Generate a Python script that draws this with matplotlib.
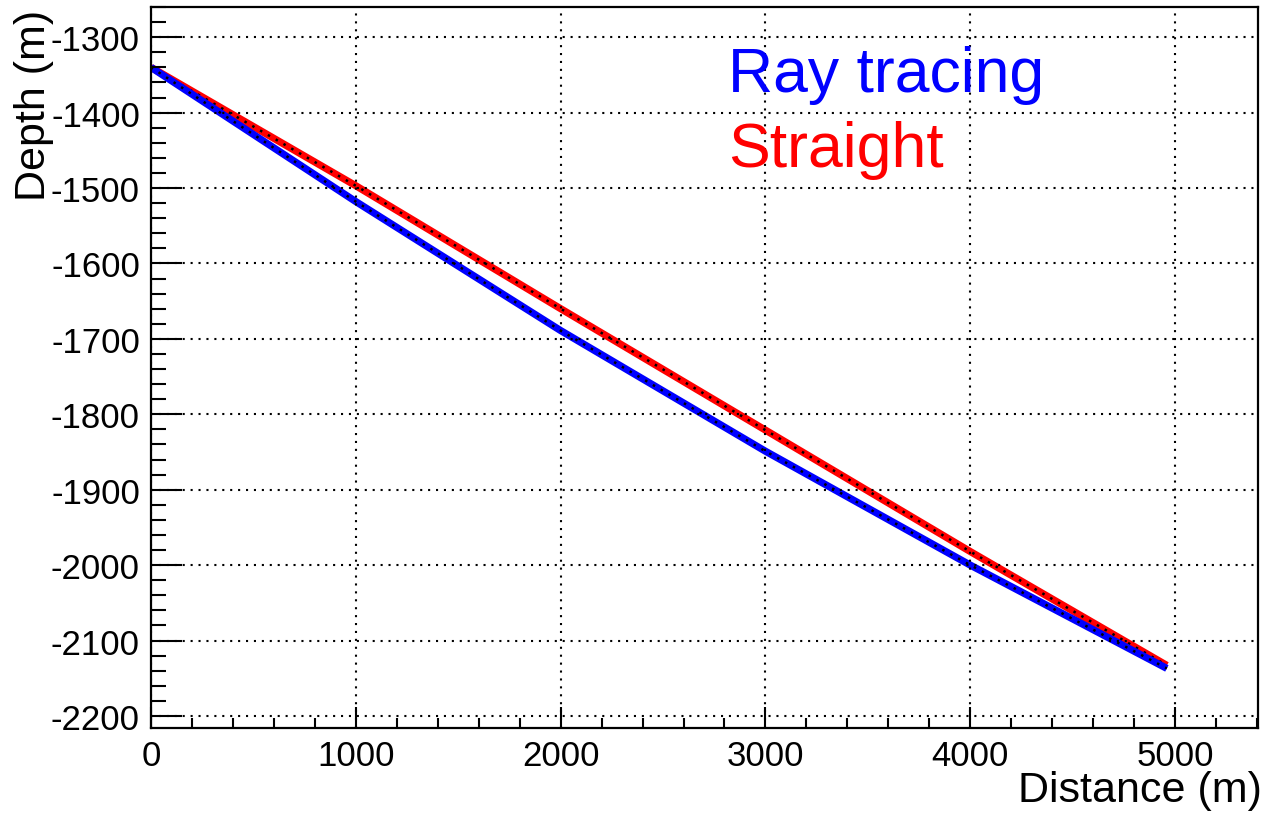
import numpy as np
import matplotlib
matplotlib.use("Agg")
import matplotlib.pyplot as plt
from matplotlib.ticker import MultipleLocator

plt.rcParams['font.family'] = ['Liberation Sans', 'DejaVu Sans']
plt.rcParams['axes.unicode_minus'] = False

# ray path from the source down to the receiver, distance vs depth (m)
ray_dist = [0, 1000, 2000, 3000, 4000, 4960]
ray_depth = [-1340, -1518, -1689, -1849, -2000, -2137]

straight_dist = [0, 1000, 2000, 3000, 4000, 4960]
straight_depth = [-1340, -1497, -1660, -1821, -1982, -2133]

fig = plt.figure(figsize=(12.7, 8.2), dpi=100)
ax = fig.add_axes([151/1270, 1 - 729/820, (1258 - 151)/1270, (729 - 8)/820])

dots = dict(color='black', lw=1.8, linestyle=(0, (1, 2.6)))
ax.plot(straight_dist, straight_depth, color='#ff0000', lw=5.2, solid_capstyle='butt')
ax.plot(straight_dist, straight_depth, **dots)
ax.plot(ray_dist, ray_depth, color='#0000ff', lw=5.2, solid_capstyle='butt')
ax.plot(ray_dist, ray_depth, **dots)

ax.set_xlim(0, 5405)
ax.set_ylim(-2216, -1260)

ax.xaxis.set_major_locator(MultipleLocator(1000))
ax.xaxis.set_minor_locator(MultipleLocator(200))
ax.yaxis.set_major_locator(MultipleLocator(100))
ax.yaxis.set_minor_locator(MultipleLocator(20))

ax.grid(True, which='major', color='black', lw=1.5, linestyle=(0, (1, 2.8)))
ax.set_axisbelow(False)

ax.tick_params(axis='both', which='both', direction='in', colors='black',
               labelsize=25, width=1.5)
ax.tick_params(axis='x', which='major', length=15, pad=8)
ax.tick_params(axis='x', which='minor', length=7.5)
ax.tick_params(axis='y', which='major', length=22, pad=8)
ax.tick_params(axis='y', which='minor', length=11)
for s in ax.spines.values():
    s.set_linewidth(1.6)

fig.text(1262/1270, 1 - 802/820, 'Distance (m)', fontsize=31,
         ha='right', va='baseline')
fig.text(14/1270, 1 - 10/820, 'Depth (m)', fontsize=31, rotation=90,
         ha='left', va='top')

fig.text(728/1270, 1 - 92/820, 'Ray tracing', fontsize=45, color='#0000ff',
         va='baseline')
fig.text(728/1270, 1 - 167/820, 'Straight', fontsize=45, color='#ff0000',
         va='baseline')

fig.savefig('out.png', dpi=100)
